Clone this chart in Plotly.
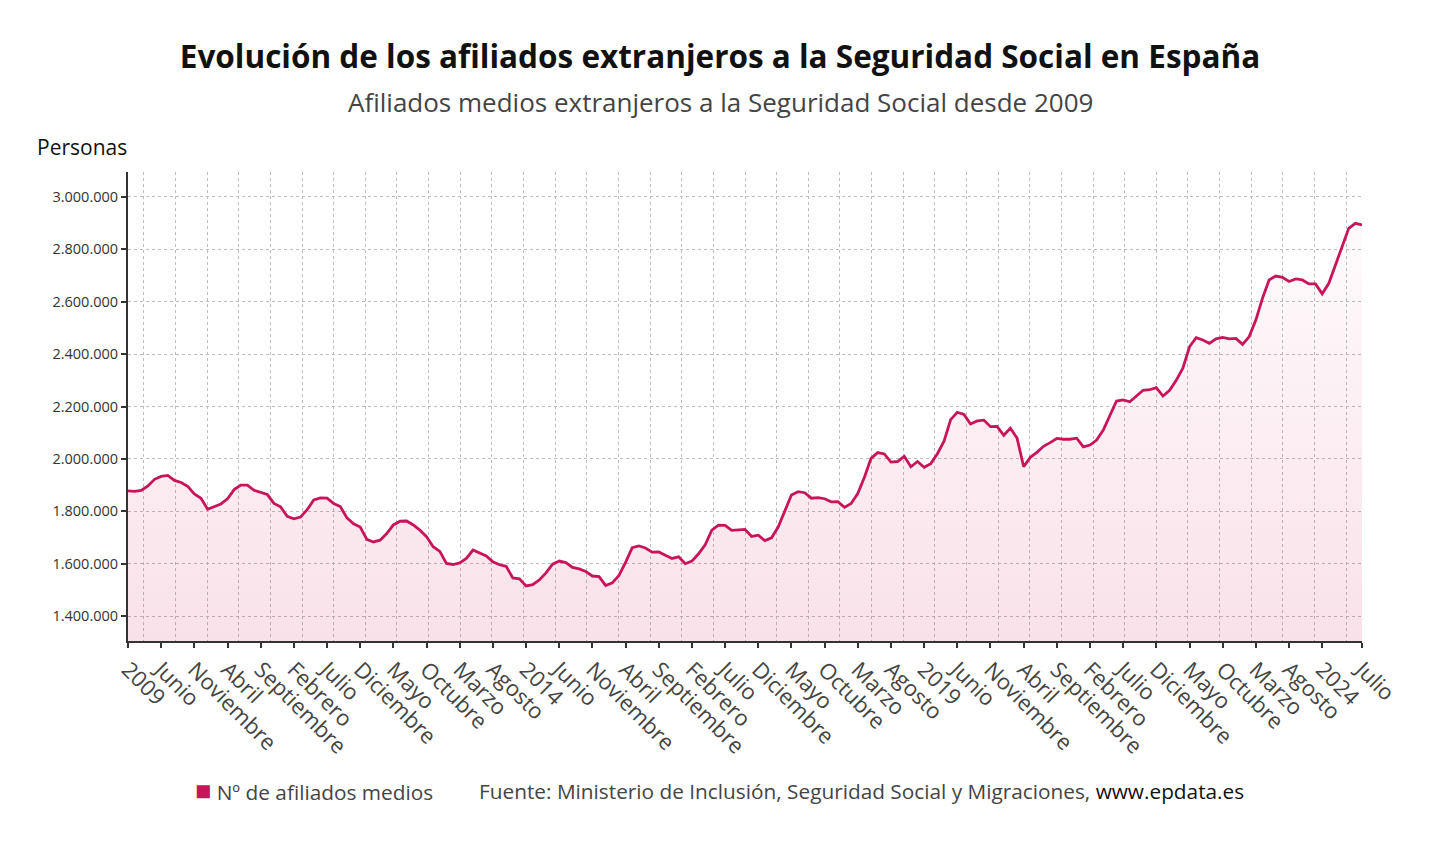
import plotly.graph_objects as go

# Afiliados medios extranjeros, enero 2009 - julio 2024 (miles)
AFILIADOS_MILES = [
    1878, 1876, 1880, 1897, 1922, 1933, 1937, 1918, 1910, 1895, 1866, 1850,
    1808, 1818, 1828, 1848, 1883, 1900, 1900, 1880, 1872, 1864, 1830, 1817,
    1781, 1771, 1778, 1806, 1843, 1851, 1850, 1830, 1818, 1775, 1752, 1740,
    1693, 1683, 1690, 1715, 1748, 1762, 1763, 1748, 1728, 1703, 1665, 1647,
    1601, 1597, 1603, 1620, 1652, 1640, 1630, 1607, 1596, 1590, 1546, 1542,
    1515, 1520, 1538, 1565, 1598, 1610, 1604, 1586, 1580, 1570, 1553, 1551,
    1517, 1527, 1555, 1605, 1661, 1668, 1660, 1644, 1645, 1632, 1620, 1626,
    1600, 1610, 1638, 1672, 1728, 1747, 1746, 1727, 1728, 1731, 1704, 1709,
    1688, 1699, 1740, 1800, 1862, 1875, 1871, 1850, 1852, 1848, 1836, 1837,
    1815, 1830, 1868, 1930, 2002, 2024, 2019, 1988, 1990, 2010, 1970, 1990,
    1968, 1982, 2020, 2068, 2150, 2178, 2170, 2133, 2145, 2148, 2123, 2124,
    2090, 2117, 2080, 1970, 2006, 2025, 2048, 2062, 2078, 2075, 2075, 2079,
    2046, 2053, 2072, 2110, 2168, 2221, 2225, 2218, 2240, 2262, 2264, 2272,
    2240, 2262, 2300, 2346, 2428, 2463, 2454, 2441, 2458, 2464, 2458, 2460,
    2437, 2467, 2530, 2613, 2683, 2698, 2693, 2677, 2687, 2683, 2668, 2668,
    2630, 2670, 2740, 2810, 2880, 2899, 2893,
]
afiliados = [v * 1000 for v in AFILIADOS_MILES]
meses = [f"{2009 + i // 12}-{i % 12 + 1:02d}" for i in range(len(afiliados))]

X_TICK_MESES = [
    "2009-01", "2009-06", "2009-11", "2010-04", "2010-09", "2011-02", "2011-07",
    "2011-12", "2012-05", "2012-10", "2013-03", "2013-08", "2014-01", "2014-06",
    "2014-11", "2015-04", "2015-09", "2016-02", "2016-07", "2016-12", "2017-05",
    "2017-10", "2018-03", "2018-08", "2019-01", "2019-06", "2019-11", "2020-04",
    "2020-09", "2021-02", "2021-07", "2021-12", "2022-05", "2022-10", "2023-03",
    "2023-08", "2024-01", "2024-07",
]
X_TICK_LABELS = [
    "2009", "Junio", "Noviembre", "Abril", "Septiembre", "Febrero", "Julio",
    "Diciembre", "Mayo", "Octubre", "Marzo", "Agosto", "2014", "Junio",
    "Noviembre", "Abril", "Septiembre", "Febrero", "Julio", "Diciembre", "Mayo",
    "Octubre", "Marzo", "Agosto", "2019", "Junio", "Noviembre", "Abril",
    "Septiembre", "Febrero", "Julio", "Diciembre", "Mayo", "Octubre", "Marzo",
    "Agosto", "2024", "Julio",
]
Y_TICKS = [1400000, 1600000, 1800000, 2000000, 2200000, 2400000, 2600000,
           2800000, 3000000]
Y_TICK_LABELS = [f"{v:,}".replace(",", ".") for v in Y_TICKS]

ROJO = "#c8155a"
FONT = "Open Sans"
GRID = "#bcbcbc"
Y_MIN, Y_MAX = 1305000, 3095000

# the page adds an 8px body margin, so the figure is 16px smaller
W, H = 1424, 830
PLOT_L, PLOT_R, PLOT_T, PLOT_B = 120, 1354, 164, 633


def px_x(x):
    return (x - 8 - PLOT_L) / (PLOT_R - PLOT_L)


def px_y(y):
    return (PLOT_B - (y - 8)) / (PLOT_B - PLOT_T)


fig = go.Figure()
fig.add_trace(go.Scatter(
    x=meses,
    y=afiliados,
    mode="lines",
    line=dict(color=ROJO, width=2.8),
    fill="tozeroy",
    fillgradient=dict(
        type="vertical",
        start=Y_MIN,
        stop=3000000,
        colorscale=[[0, "rgba(214,40,100,0.14)"], [1, "rgba(214,40,100,0.01)"]],
    ),
    name="Nº de afiliados medios",
    hovertemplate="%{x}: %{y:,}<extra></extra>",
))
# empty trace so the overlaid grid axis gets drawn
fig.add_trace(go.Scatter(x=[], y=[], xaxis="x2", showlegend=False,
                         hoverinfo="skip"))

fig.update_layout(
    width=W,
    height=H,
    paper_bgcolor="white",
    plot_bgcolor="white",
    showlegend=False,
    margin=dict(l=PLOT_L, r=W - PLOT_R, t=PLOT_T, b=H - PLOT_B),
    font=dict(family=FONT, color="#333"),
    title=dict(
        text="<b>Evolución de los afiliados extranjeros a la Seguridad Social en España</b>",
        x=0.5, xanchor="center", y=1 - 49 / H, yanchor="middle",
        font=dict(size=31.5, color="#111", family=FONT),
    ),
    xaxis=dict(
        type="category",
        range=[0, len(meses) - 1],
        tickmode="array",
        tickvals=X_TICK_MESES,
        ticktext=X_TICK_LABELS,
        tickangle=45,
        tickfont=dict(size=22, color="#444"),
        ticks="outside", ticklen=5, tickwidth=2, tickcolor="#333",
        showgrid=False,
        showline=True, linecolor="#333", linewidth=2,
        zeroline=False,
    ),
    xaxis2=dict(
        overlaying="x",
        anchor="y",
        range=[0, 39],
        tickmode="linear", tick0=0.5, dtick=1,
        showticklabels=False, ticks="",
        showgrid=True, gridcolor=GRID, gridwidth=1, griddash="3px,3px",
        showline=False, zeroline=False,
    ),
    yaxis=dict(
        range=[Y_MIN, Y_MAX],
        tickmode="array",
        tickvals=Y_TICKS,
        ticktext=Y_TICK_LABELS,
        tickfont=dict(size=14.5, color="#333"),
        ticks="outside", ticklen=5, tickwidth=2, tickcolor="#333",
        showgrid=True, gridcolor=GRID, gridwidth=1, griddash="3px,3px",
        showline=True, linecolor="#333", linewidth=2,
        zeroline=False,
    ),
)

fig.add_annotation(
    text="Afiliados medios extranjeros a la Seguridad Social desde 2009",
    xref="paper", yref="paper", x=px_x(720), y=px_y(102),
    xanchor="center", yanchor="middle", showarrow=False,
    font=dict(size=26, color="#444"),
)
fig.add_annotation(
    text="Personas",
    xref="paper", yref="paper", x=px_x(35), y=px_y(147),
    xanchor="left", yanchor="middle", showarrow=False,
    font=dict(size=21, color="#111"),
)
fig.add_annotation(
    text=f"<span style='color:{ROJO};font-size:27px'>■</span> Nº de afiliados medios",
    xref="paper", yref="paper", x=px_x(193), y=px_y(789),
    xanchor="left", yanchor="middle", showarrow=False,
    font=dict(size=20.8, color="#444"),
)
fig.add_annotation(
    text="Fuente: Ministerio de Inclusión, Seguridad Social y Migraciones, "
         "<span style='color:#111'>www.epdata.es</span>",
    xref="paper", yref="paper", x=px_x(477), y=px_y(791),
    xanchor="left", yanchor="middle", showarrow=False,
    font=dict(size=20.8, color="#444"),
)

fig.write_html("out.html")
